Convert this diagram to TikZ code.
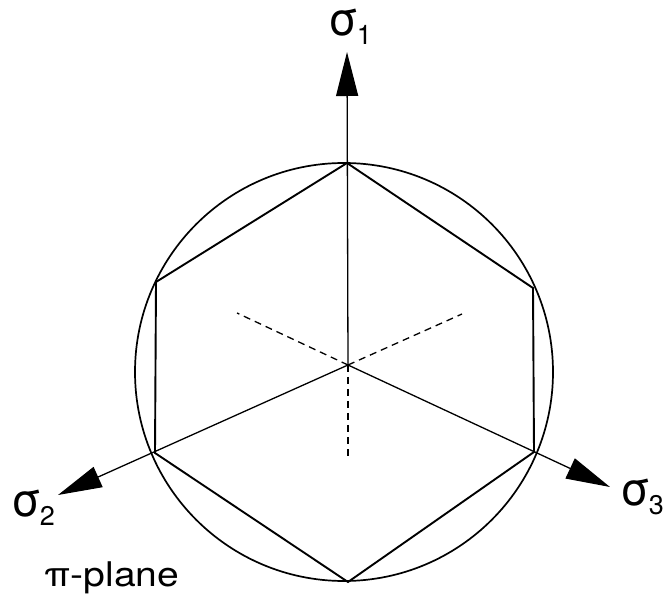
\documentclass[tikz,border=0pt]{standalone}
\usepackage{fontspec}
\setmainfont{TeX Gyre Heros}
\usetikzlibrary{arrows.meta,calc,positioning}
\newcommand{\stress}[1]{{\fontsize{46}{46}\selectfont σ}\kern-1pt\raisebox{-9pt}{\fontsize{27}{27}\selectfont #1}}

\begin{document}
\begin{tikzpicture}[
  x=1pt,y=-1pt,
  every node/.style={inner sep=0pt},
  rim/.style={line width=1.7pt},
  hex/.style={line width=1.9pt,line join=miter},
  axis/.style={line width=1.3pt,-{Triangle[length=44pt,width=22pt]}},
  back/.style={line width=1.3pt,dash pattern=on 7pt off 5pt}
]
  \useasboundingbox (0,0) rectangle (664,601);
  % pi-plane geometry
  \coordinate (O) at (348,365);
  \coordinate (ctr) at (344,372);
  \coordinate (top) at (347,163);
  \coordinate (ul) at (156,282);
  \coordinate (ll) at (155,453);
  \coordinate (bot) at (348,582);
  \coordinate (lr) at (534,452);
  \coordinate (ur) at (533,288);
  \coordinate (tip1) at (347,52);
  \coordinate (tip2) at (58,495);
  \coordinate (tip3) at (610,487);
  \draw[rim] (ctr) circle (209);
  \draw[hex] (top)--(ul)--(ll)--(bot)--(lr)--(ur)--cycle;
  % principal axes
  \draw[axis] (O)--(tip1);
  \draw[axis] (O)--(tip2);
  \draw[axis] (O)--(tip3);
  \draw[back] (O)--(348,458);
  \draw[back] (O)--(237,313);
  \draw[back] (O)--(462,314);
  % labels
  \node (s1) at (350,27) {\stress{1}};
  \node (s2) at (33,508) {\stress{2}};
  \node (s3) at (642,497) {\stress{3}};
  \node (pl) at (112,578) {\scalebox{1.15}[1]{\fontsize{34}{34}\selectfont π-plane}};
\end{tikzpicture}
\end{document}
